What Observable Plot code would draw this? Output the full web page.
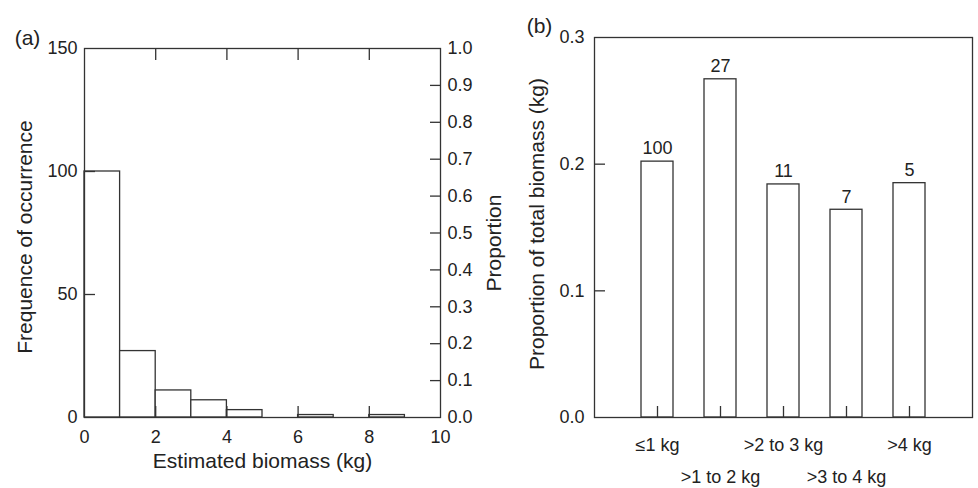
<!DOCTYPE html>
<html>
<head>
<meta charset="utf-8">
<script src="https://cdn.jsdelivr.net/npm/d3@7"></script>
<script src="https://cdn.jsdelivr.net/npm/@observablehq/plot@0.6"></script>
<style>
  html, body { margin: 0; padding: 0; background: #fff; }
  #wrap { display: flex; width: 978px; height: 488px; }
  #wrap svg { display: block; }
</style>
</head>
<body>
<div id="wrap"></div>
<script>
// ---- Panel (a) data ----
const binStart = [0, 1, 2, 3, 4, 5, 6, 7, 8, 9];
const binEnd   = [1, 2, 3, 4, 5, 6, 7, 8, 9, 10];
const counts   = [100, 27, 11, 7, 3, 0, 1, 0, 1, 0];
const xTicksA  = [0, 2, 4, 6, 8, 10];
const yTicksA  = [0, 50, 100, 150];
const propTicksA = [0, 0.1, 0.2, 0.3, 0.4, 0.5, 0.6, 0.7, 0.8, 0.9, 1.0];
const countMax = 150;

// ---- Panel (b) data ----
const categories  = ["\u22641 kg", ">1 to 2 kg", ">2 to 3 kg", ">3 to 4 kg", ">4 kg"];
const proportions = [0.202, 0.267, 0.184, 0.164, 0.185];
const nFish       = [100, 27, 11, 7, 5];
const yTicksB     = [0, 0.1, 0.2, 0.3];

const FONT = "'Liberation Sans', Arial, Helvetica, sans-serif";
const INK = "#333";
const TXT = "#222";
const TITLE = 21;

const hist = binStart.map((s, i) => ({x1: s, x2: binEnd[i], n: counts[i]}));
const propCountTicks = propTicksA.map(p => p * countMax);

const plotA = Plot.plot({
  width: 515, height: 488,
  marginLeft: 84, marginRight: 75, marginTop: 48, marginBottom: 71,
  style: {fontFamily: FONT, color: TXT, background: "white", overflow: "visible"},
  x: {domain: [0, 10]},
  y: {domain: [0, countMax]},
  marks: [
    Plot.rectY(hist, {x1: "x1", x2: "x2", y: "n", fill: "white", stroke: INK, strokeWidth: 1.3}),
    Plot.frame({stroke: INK, strokeWidth: 1.3}),
    Plot.axisX(xTicksA, {anchor: "bottom", tickSize: 0, tickPadding: 13, fontSize: 18, label: null}),
    Plot.axisX(xTicksA.slice(1, -1), {anchor: "bottom", tickSize: -11, fill: "none", stroke: INK, strokeWidth: 1.3, label: null}),
    Plot.axisX(xTicksA.slice(1, -1), {anchor: "top", tickSize: -11, fill: "none", stroke: INK, strokeWidth: 1.3, label: null}),
    Plot.axisY(yTicksA, {anchor: "left", tickSize: 0, tickPadding: 7, fontSize: 18, label: null}),
    Plot.axisY(yTicksA.slice(1, -1), {anchor: "left", tickSize: -11, fill: "none", stroke: INK, strokeWidth: 1.3, label: null}),
    Plot.axisY(propCountTicks, {anchor: "right", tickSize: 0, tickPadding: 7, fontSize: 18, label: null,
      tickFormat: d => (d / countMax).toFixed(1)}),
    Plot.axisY(propCountTicks.slice(1, -1), {anchor: "right", tickSize: -11, fill: "none", stroke: INK, strokeWidth: 1.3, label: null}),
    Plot.text(["Frequence of occurrence"], {frameAnchor: "left", textAnchor: "middle", rotate: -90, dx: -59, dy: 4, fontSize: TITLE, fill: TXT}),
    Plot.text(["Proportion"], {frameAnchor: "right", textAnchor: "middle", rotate: -90, dx: 54, dy: 10, fontSize: TITLE, fill: TXT}),
    Plot.text(["Estimated biomass (kg)"], {frameAnchor: "bottom", textAnchor: "middle", lineAnchor: "top", dy: 36, fontSize: TITLE, fill: TXT}),
    Plot.text(["(a)"], {frameAnchor: "top-left", textAnchor: "middle", dx: -57, dy: -18, fontSize: TITLE, fill: TXT})
  ]
});

const barsB = categories.map((c, i) => ({cat: c, p: proportions[i], n: nFish[i]}));

const plotB = Plot.plot({
  width: 463, height: 488,
  marginLeft: 79, marginRight: 6, marginTop: 37, marginBottom: 71,
  style: {fontFamily: FONT, color: TXT, background: "white", overflow: "visible"},
  x: {type: "band", domain: categories, paddingInner: 0.5, paddingOuter: 0.75},
  y: {domain: [0, 0.3]},
  marks: [
    Plot.barY(barsB, {x: "cat", y: "p", fill: "white", stroke: INK, strokeWidth: 1.3}),
    Plot.frame({stroke: INK, strokeWidth: 1.3}),
    Plot.text(barsB, {x: "cat", y: "p", text: "n", dy: -13, fontSize: 18, fill: TXT}),
    Plot.axisX(categories.filter((d, i) => i % 2 === 0), {anchor: "bottom", tickSize: 0, tickPadding: 21, fontSize: 18, label: null}),
    Plot.axisX(categories.filter((d, i) => i % 2 === 1), {anchor: "bottom", tickSize: 0, tickPadding: 53, fontSize: 18, label: null}),
    Plot.axisX(categories, {anchor: "bottom", tickSize: -11, fill: "none", stroke: INK, strokeWidth: 1.3, label: null}),
    Plot.axisY(yTicksB, {anchor: "left", tickSize: 0, tickPadding: 10, fontSize: 18, label: null, tickFormat: d => d.toFixed(1)}),
    Plot.axisY(yTicksB.slice(1, -1), {anchor: "left", tickSize: -11, fill: "none", stroke: INK, strokeWidth: 1.3, label: null}),
    Plot.text(["Proportion of total biomass (kg)"], {frameAnchor: "left", textAnchor: "middle", rotate: -90, dx: -57, dy: -3.5, fontSize: TITLE, fill: TXT}),
    Plot.text(["(b)"], {frameAnchor: "top-left", textAnchor: "middle", dx: -55, dy: -19, fontSize: TITLE, fill: TXT})
  ]
});

const wrap = document.getElementById("wrap");
wrap.appendChild(plotA);
wrap.appendChild(plotB);
</script>
</body>
</html>
